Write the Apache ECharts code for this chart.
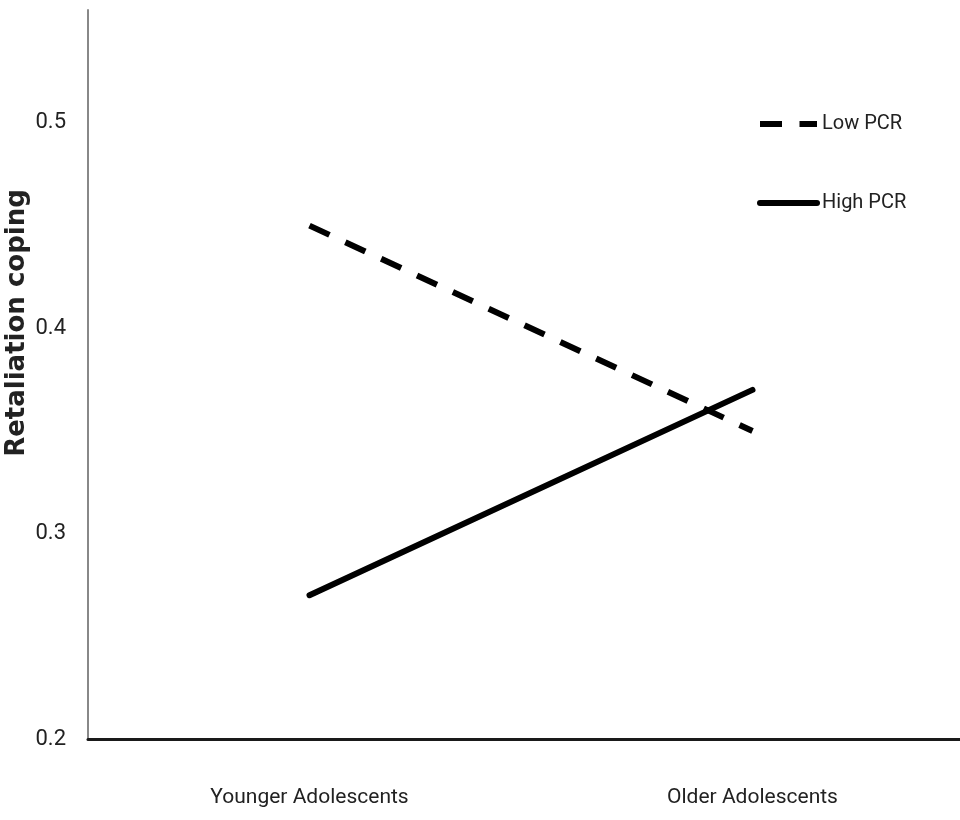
<!DOCTYPE html>
<html>
<head>
<meta charset="utf-8">
<script src="https://cdn.jsdelivr.net/npm/echarts@6/dist/echarts.min.js"></script>
<style>html,body{margin:0;padding:0;background:#fff}#c{width:960px;height:820px}</style>
</head>
<body>
<div id="c"></div>
<script>
var categories = ['Younger Adolescents', 'Older Adolescents'];
var lowPCR = [0.45, 0.35];
var highPCR = [0.27, 0.37];
var seriesNames = ['Low PCR', 'High PCR'];
var yAxisTitle = 'Retaliation coping';

var chart = echarts.init(document.getElementById('c'), null, {renderer: 'canvas'});
var font = 'Roboto, "Liberation Sans", sans-serif';
var dashPattern = [22, 17.5];
chart.setOption({
  backgroundColor: '#ffffff',
  animation: false,
  grid: {left: 88, width: 886, top: 10, bottom: 81, containLabel: false, outerBoundsMode: 'none'},
  legend: {
    orient: 'vertical',
    left: 757,
    top: 114,
    padding: 0,
    itemWidth: 57,
    itemHeight: 14,
    itemGap: 59,
    textStyle: {fontFamily: font, fontSize: 20, color: '#222'},
    data: [
      {name: seriesNames[0], itemStyle: {opacity: 0}, lineStyle: {color: '#000', width: 6, type: dashPattern, cap: 'butt'}},
      {name: seriesNames[1], itemStyle: {opacity: 0}, lineStyle: {color: '#000', width: 6, type: 'solid', cap: 'round'}}
    ]
  },
  graphic: [{
    type: 'text',
    x: 17, y: 323,
    rotation: Math.PI / 2,
    style: {
      text: yAxisTitle,
      fontFamily: '"DejaVu Sans", sans-serif',
      fontWeight: 'bold',
      fontSize: 26,
      fill: '#222',
      align: 'center',
      verticalAlign: 'middle'
    }
  }],
  xAxis: {
    type: 'category',
    data: categories,
    boundaryGap: true,
    axisLine: {lineStyle: {color: '#1a1a1a', width: 3}},
    axisTick: {show: false},
    axisLabel: {fontFamily: font, fontSize: 21, color: '#222', margin: 48},
    splitLine: {show: false}
  },
  yAxis: {
    type: 'value',
    min: 0.2,
    max: 0.555,
    interval: 0.1,
    axisLine: {show: true, lineStyle: {color: '#888', width: 2}},
    axisTick: {show: false},
    splitLine: {show: false},
    axisLabel: {fontFamily: font, fontSize: 22, color: '#222', margin: 22, showMaxLabel: false,
      formatter: function (v) { return v.toFixed(1); }}
  },
  series: [{
    name: seriesNames[0],
    type: 'line',
    data: lowPCR,
    symbol: 'none',
    lineStyle: {color: '#000', width: 6, type: dashPattern, cap: 'butt'},
    itemStyle: {color: '#000'}
  }, {
    name: seriesNames[1],
    type: 'line',
    data: highPCR,
    symbol: 'none',
    lineStyle: {color: '#000', width: 6, type: 'solid', cap: 'round'},
    itemStyle: {color: '#000'}
  }]
});
</script>
</body>
</html>
